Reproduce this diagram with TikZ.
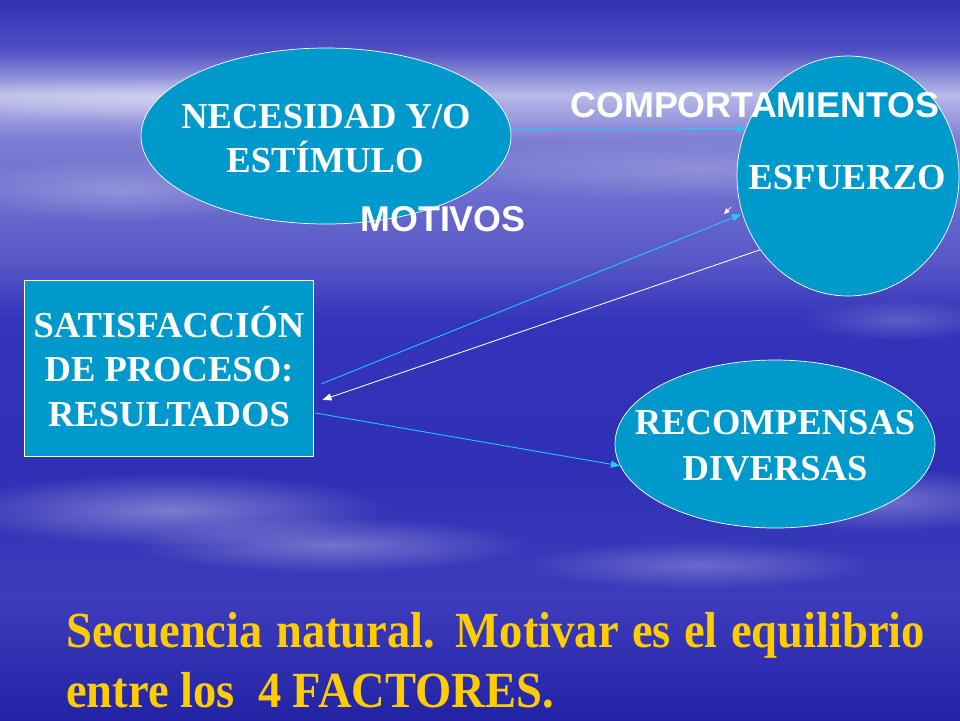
\documentclass[tikz,border=0pt]{standalone}
\usepackage{fontspec}
\setmainfont{Liberation Serif}
\newfontfamily\arialf{Liberation Sans}
\usetikzlibrary{arrows.meta,shapes.geometric,fadings}
\tikzfading[name=softblob, inner color=transparent!0, outer color=transparent!100]
\definecolor{shapefill}{RGB}{0,153,204}
\definecolor{arrowcyan}{RGB}{30,205,255}
\definecolor{goldtext}{RGB}{255,204,0}
\definecolor{b0}{RGB}{50,50,178}
\definecolor{b1}{RGB}{80,80,196}
\definecolor{b2}{RGB}{185,185,232}
\definecolor{b3}{RGB}{125,125,212}
\definecolor{b4}{RGB}{88,88,200}
\definecolor{b5}{RGB}{52,52,186}
\definecolor{b6}{RGB}{48,48,182}
\definecolor{b7}{RGB}{60,60,188}
\definecolor{b8}{RGB}{34,34,165}
\begin{document}
\begin{tikzpicture}[x=0.25mm,y=-0.25mm,
  shapebox/.style={draw=white,line width=0.5pt,fill=shapefill},
  bigtext/.style={inner sep=0pt,anchor=base,text=white,font=\bfseries\fontsize{26}{31}\selectfont},
  sanstext/.style={inner sep=0pt,anchor=base,text=white,font=\arialf\bfseries\fontsize{25.5}{30}\selectfont},
  yellowtext/.style={inner sep=0pt,anchor=base west,text=goldtext,font=\bfseries\fontsize{36}{42}\selectfont},
  cyanarrow/.style={draw=arrowcyan,line width=0.6pt,-{Triangle[length=6.5pt,width=5pt]}},
  whitearrow/.style={draw=white,line width=0.6pt,-{Triangle[length=6.5pt,width=5pt]}},
  cloud/.style={fill=white,path fading=softblob}]
\useasboundingbox (0,0) rectangle (960,720);
% background
\fill[top color=b0,bottom color=b1] (0,0) rectangle (960,50);
\fill[top color=b1,bottom color=b2] (0,50) rectangle (960,95);
\fill[top color=b2,bottom color=b3] (0,95) rectangle (960,140);
\fill[top color=b3,bottom color=b4] (0,140) rectangle (960,260);
\fill[top color=b4,bottom color=b5] (0,260) rectangle (960,320);
\fill[top color=b5,bottom color=b6] (0,320) rectangle (960,470);
\fill[top color=b6,bottom color=b7] (0,470) rectangle (960,600);
\fill[top color=b7,bottom color=b8] (0,600) rectangle (960,720);
% cloud streaks
\fill[cloud,opacity=0.35] (160,100) ellipse [x radius=70mm,y radius=6mm];
\fill[cloud,opacity=0.25] (120,190) ellipse [x radius=45mm,y radius=8mm];
\fill[cloud,opacity=0.2] (700,170) ellipse [x radius=70mm,y radius=8mm];
\fill[cloud,opacity=0.35] (170,510) ellipse [x radius=55mm,y radius=9mm];
\fill[cloud,opacity=0.3] (330,545) ellipse [x radius=50mm,y radius=7mm];
\fill[cloud,opacity=0.3] (880,500) ellipse [x radius=40mm,y radius=8mm];
\fill[cloud,opacity=0.25] (700,565) ellipse [x radius=45mm,y radius=6mm];
\fill[cloud,opacity=0.2] (900,320) ellipse [x radius=25mm,y radius=5mm];
% shapes
\node[shapebox,ellipse,minimum width=92.5mm,minimum height=44mm,inner sep=0pt] (nec) at (326,136) {};
\node[shapebox,ellipse,minimum width=55.5mm,minimum height=60mm,inner sep=0pt] (esf) at (848,176) {};
\node[shapebox,rectangle,minimum width=72.25mm,minimum height=44mm,inner sep=0pt] (sat) at (168.5,368) {};
\node[shapebox,ellipse,minimum width=80mm,minimum height=42mm,inner sep=0pt] (rec) at (775,444) {};
% texts in shapes
\node[bigtext] (t1) at (326,128) {NECESIDAD Y/O};
\node[bigtext] (t2) at (325,172) {ESTÍMULO};
\node[bigtext] (t3) at (847,189) {ESFUERZO};
\node[bigtext] (t4) at (169,337) {SATISFACCIÓN};
\node[bigtext] (t5) at (169,381) {DE PROCESO:};
\node[bigtext] (t6) at (169,426) {RESULTADOS};
\node[bigtext] (t7) at (775,434) {RECOMPENSAS};
\node[bigtext] (t8) at (775,480) {DIVERSAS};
% connectors
\draw[cyanarrow] (nec.2.5) -- (esf.155);
\draw[cyanarrow] ([xshift=5.7pt,yshift=-11.3pt]sat.east) -- ([xshift=-1pt]esf.200);
\draw[whitearrow] (esf.220) -- ([xshift=6.4pt,yshift=-22.7pt]sat.east);
\draw[cyanarrow] ([xshift=1.4pt,yshift=-32pt]sat.east) -- (rec.188);
\coordinate (sa) at (731,207);
\coordinate (sb) at (724,214);
\draw[white,line width=0.5pt,-{Triangle[length=4pt,width=3.5pt]}] (sa) -- (sb);
% labels
\node[sanstext] (comp) at (755,117) {COMPORTAMIENTOS};
\node[sanstext] (mot) at (443,231) {MOTIVOS};
% bottom text
\node[yellowtext] (y1) at (66,647) {\scalebox{0.92}[1]{\makebox[664pt][s]{Secuencia natural. Motivar es el equilibrio}}};
\node[yellowtext] (y2) at (66,707) {\scalebox{0.92}[1]{entre los\ \ 4 FACTORES.}};
\end{tikzpicture}
\end{document}
